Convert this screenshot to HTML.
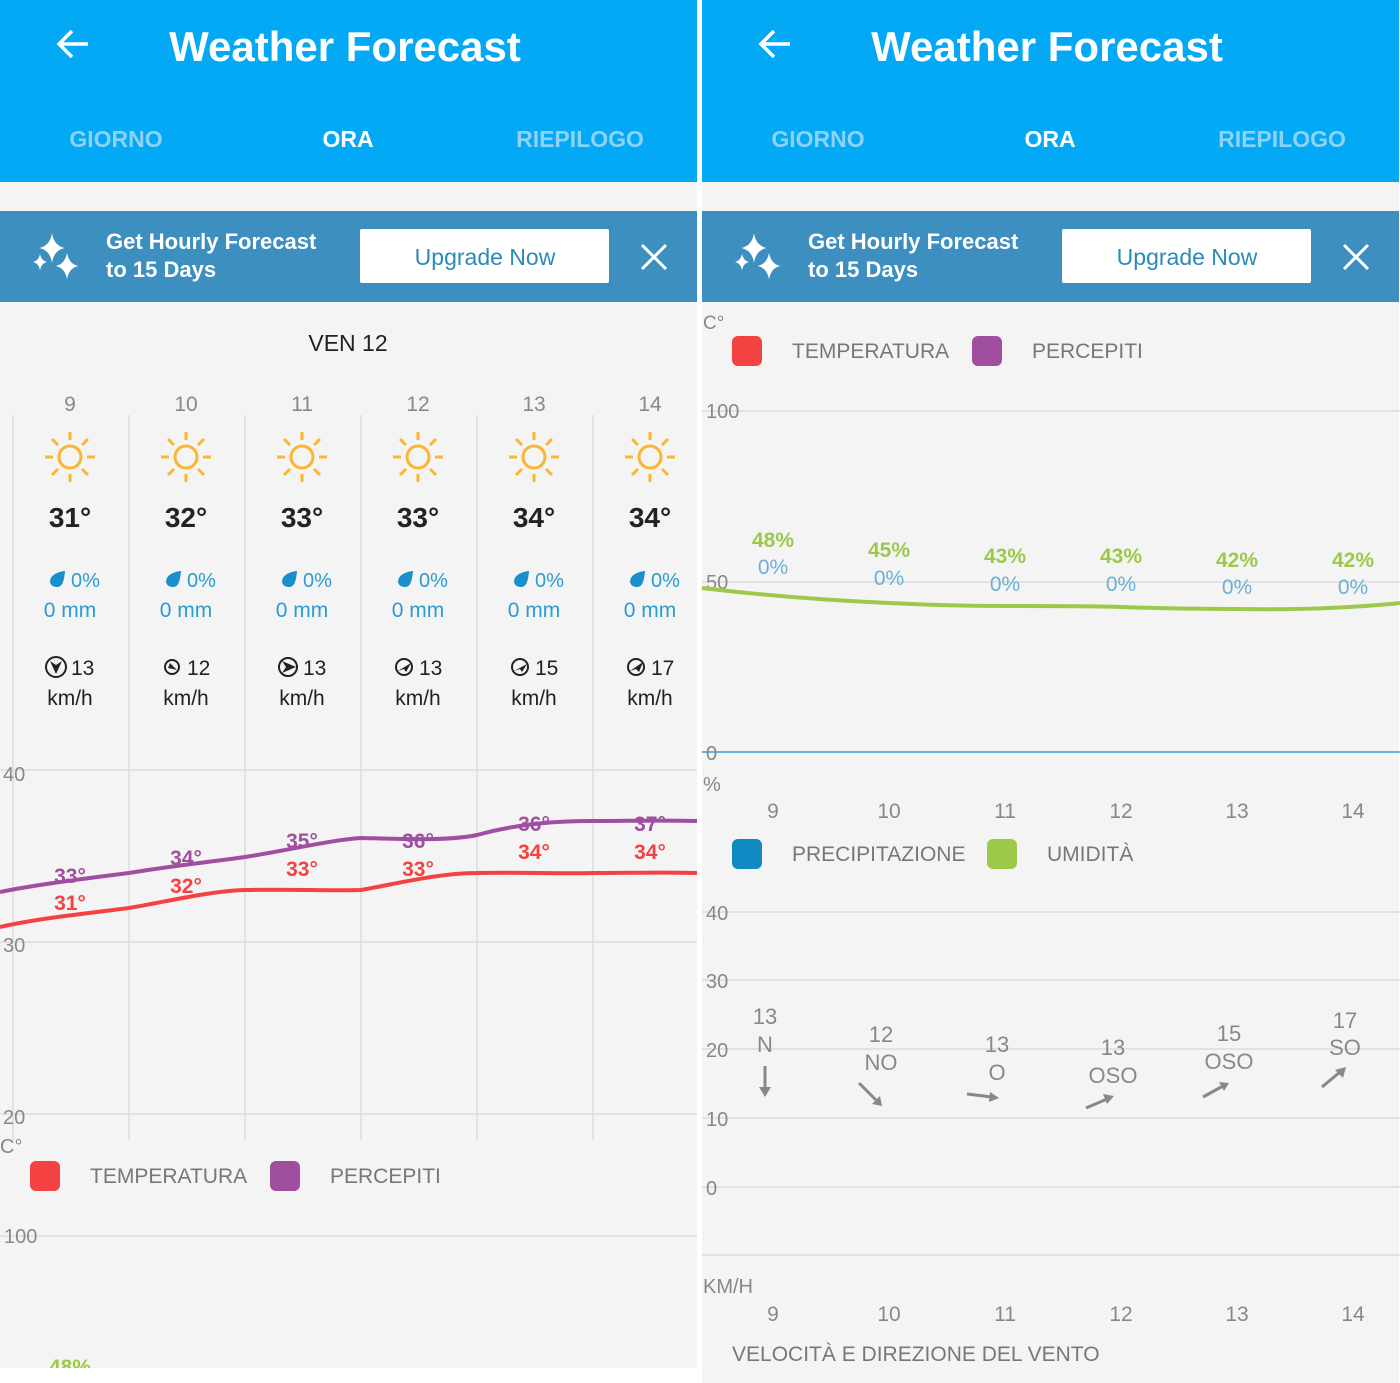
<!DOCTYPE html>
<html><head><meta charset="utf-8"><style>
html,body{margin:0;padding:0;background:#fff;}
svg{display:block;font-family:"Liberation Sans",sans-serif;}
</style></head><body>
<svg width="1400" height="1383" viewBox="0 0 1400 1383" xmlns="http://www.w3.org/2000/svg">
<defs>
<g id="sun" fill="none" stroke="#fbb52f" stroke-width="3" stroke-linecap="butt">
<circle r="11"/>
<line x1="0" y1="-17" x2="0" y2="-25"/><line x1="0" y1="17" x2="0" y2="25"/>
<line x1="-17" y1="0" x2="-25" y2="0"/><line x1="17" y1="0" x2="25" y2="0"/>
<line x1="12" y1="12" x2="18" y2="18"/><line x1="-12" y1="12" x2="-18" y2="18"/>
<line x1="12" y1="-12" x2="18" y2="-18"/><line x1="-12" y1="-12" x2="-18" y2="-18"/>
</g>
<path id="drop" d="M8,-8 C8,-8 -6,-7 -7,2 C-7,6 -4,8 0,8 C5,8 7,3 8,-8Z" fill="#1a8fc9"/>
<g id="spark" fill="#fff">
<path d="M0,-14 Q2,-2 12,0 Q2,2 0,14 Q-2,2 -12,0 Q-2,-2 0,-14Z"/>
</g>
<g id="header">
<rect x="0" y="0" width="697" height="182" fill="#03a9f4"/>
<rect x="0" y="182" width="697" height="29" fill="#f4f4f4"/>
<path d="M60,44 H88 M72,31 L59,44 L72,57" stroke="#fff" stroke-width="3.5" fill="none"/>
<text x="345" y="61" text-anchor="middle" font-size="42" font-weight="bold" fill="#fff">Weather Forecast</text>
<text x="116" y="147" text-anchor="middle" font-size="23" font-weight="bold" fill="#8ed3f7">GIORNO</text>
<text x="348" y="147" text-anchor="middle" font-size="23" font-weight="bold" fill="#fff">ORA</text>
<text x="580" y="147" text-anchor="middle" font-size="23" font-weight="bold" fill="#8ed3f7">RIEPILOGO</text>
<rect x="0" y="211" width="697" height="91" fill="#3d8fbf"/>
<use href="#spark" transform="translate(52,248) scale(1.05)"/>
<use href="#spark" transform="translate(40,262) scale(0.6)"/>
<use href="#spark" transform="translate(67,266) scale(0.95)"/>
<text x="106" y="249" font-size="22" font-weight="bold" fill="#fff">Get Hourly Forecast</text>
<text x="106" y="277" font-size="22" font-weight="bold" fill="#fff">to 15 Days</text>
<rect x="360" y="229" width="249" height="54" rx="2" fill="#fff"/>
<text x="485" y="265" text-anchor="middle" font-size="23" fill="#2a8ab8">Upgrade Now</text>
<path d="M642,245 L666,269 M666,245 L642,269" stroke="#fff" stroke-width="3"/>
<rect x="0" y="302" width="697" height="1081" fill="#f4f4f4"/>
</g>
</defs>

<use href="#header"/>
<use href="#header" transform="translate(702,0)"/>

<!-- LEFT PANEL -->
<text x="348" y="351" text-anchor="middle" font-size="23" fill="#222">VEN 12</text>
<g stroke="#dcdcdc" stroke-width="1.5">
<line x1="13" y1="415" x2="13" y2="1140"/><line x1="129" y1="415" x2="129" y2="1140"/>
<line x1="245" y1="415" x2="245" y2="1140"/><line x1="361" y1="415" x2="361" y2="1140"/>
<line x1="477" y1="415" x2="477" y2="1140"/><line x1="593" y1="415" x2="593" y2="1140"/>
<line x1="0" y1="770" x2="697" y2="770"/><line x1="0" y1="942" x2="697" y2="942"/>
<line x1="0" y1="1114" x2="697" y2="1114"/>
</g>
<g font-size="21" fill="#888" text-anchor="middle">
<text x="70" y="411">9</text><text x="186" y="411">10</text><text x="302" y="411">11</text>
<text x="418" y="411">12</text><text x="534" y="411">13</text><text x="650" y="411">14</text>
</g>
<use href="#sun" x="70" y="457"/><use href="#sun" x="186" y="457"/><use href="#sun" x="302" y="457"/>
<use href="#sun" x="418" y="457"/><use href="#sun" x="534" y="457"/><use href="#sun" x="650" y="457"/>
<g font-size="28" font-weight="bold" fill="#222" text-anchor="middle">
<text x="70" y="527">31°</text><text x="186" y="527">32°</text><text x="302" y="527">33°</text>
<text x="418" y="527">33°</text><text x="534" y="527">34°</text><text x="650" y="527">34°</text>
</g>
<g font-size="20" fill="#2b9bd0">
<use href="#drop" x="57" y="579"/><text x="71" y="587">0%</text>
<use href="#drop" x="173" y="579"/><text x="187" y="587">0%</text>
<use href="#drop" x="289" y="579"/><text x="303" y="587">0%</text>
<use href="#drop" x="405" y="579"/><text x="419" y="587">0%</text>
<use href="#drop" x="521" y="579"/><text x="535" y="587">0%</text>
<use href="#drop" x="637" y="579"/><text x="651" y="587">0%</text>
</g>
<g font-size="21" fill="#2b9bd0" text-anchor="middle">
<text x="70" y="617">0 mm</text><text x="186" y="617">0 mm</text><text x="302" y="617">0 mm</text>
<text x="418" y="617">0 mm</text><text x="534" y="617">0 mm</text><text x="650" y="617">0 mm</text>
</g>
<g fill="none" stroke="#222" stroke-width="2">
<circle cx="56" cy="667" r="10"/><circle cx="172" cy="667" r="7"/><circle cx="288" cy="667" r="9"/>
<circle cx="404" cy="667" r="8"/><circle cx="520" cy="667" r="8"/><circle cx="636" cy="667" r="8"/>
</g>
<g fill="#222">
<path d="M50,661 L56,674 L62,661 L56,665Z"/>
<path d="M167,663 L176,670 L172,667Z M168,668 L177,670 L170,663Z"/>
<path d="M282,661 L296,667 L282,673 L286,667Z"/>
<path d="M398,671 L411,663 L406,672 L404,669Z"/>
<path d="M514,671 L527,664 L522,672 L520,669Z"/>
<path d="M630,671 L643,662 L639,672 L636,669Z"/>
</g>
<g font-size="21" fill="#222">
<text x="71" y="675">13</text><text x="187" y="675">12</text><text x="303" y="675">13</text>
<text x="419" y="675">13</text><text x="535" y="675">15</text><text x="651" y="675">17</text>
</g>
<g font-size="21" fill="#222" text-anchor="middle">
<text x="70" y="705">km/h</text><text x="186" y="705">km/h</text><text x="302" y="705">km/h</text>
<text x="418" y="705">km/h</text><text x="534" y="705">km/h</text><text x="650" y="705">km/h</text>
</g>
<g font-size="20" fill="#888">
<text x="3" y="781">40</text><text x="3" y="952">30</text><text x="3" y="1124">20</text>
<text x="0" y="1153">C°</text>
</g>
<path d="M0,892 C40,884 90,878 129,873 C170,866 210,862 245,857 C290,850 330,840 361,838 C400,839 450,841 477,835 C520,823 560,821 593,821 C630,821 660,820 697,821" fill="none" stroke="#a04ea0" stroke-width="4"/>
<path d="M0,927 C40,918 90,913 129,908 C170,901 210,891 245,890 C290,889 330,891 361,890 C400,883 440,873 477,873 C520,872 560,874 593,873 C630,873 660,872 697,873" fill="none" stroke="#f44242" stroke-width="4"/>
<g font-size="21" font-weight="bold" text-anchor="middle" fill="#a04ea0">
<text x="70" y="883">33°</text><text x="186" y="865">34°</text><text x="302" y="848">35°</text>
<text x="418" y="848">36°</text><text x="534" y="831">36°</text><text x="650" y="831">37°</text>
</g>
<g font-size="21" font-weight="bold" text-anchor="middle" fill="#f44242">
<text x="70" y="910">31°</text><text x="186" y="893">32°</text><text x="302" y="876">33°</text>
<text x="418" y="876">33°</text><text x="534" y="859">34°</text><text x="650" y="859">34°</text>
</g>
<rect x="30" y="1161" width="30" height="30" rx="6" fill="#f44242"/>
<text x="90" y="1183" font-size="21" fill="#777">TEMPERATURA</text>
<rect x="270" y="1161" width="30" height="30" rx="6" fill="#a04ea0"/>
<text x="330" y="1183" font-size="21" fill="#777">PERCEPITI</text>
<line x1="0" y1="1236" x2="697" y2="1236" stroke="#dcdcdc" stroke-width="1.5"/>
<text x="4" y="1243" font-size="20" fill="#888">100</text>
<text x="70" y="1374" text-anchor="middle" font-size="21" font-weight="bold" fill="#9cc94a">48%</text>
<rect x="0" y="1368" width="697" height="15" fill="#fff"/>
<rect x="697" y="0" width="5" height="1383" fill="#fff"/>

<!-- RIGHT PANEL -->
<text x="703" y="329" font-size="19" fill="#888">C°</text>
<rect x="732" y="336" width="30" height="30" rx="6" fill="#f44242"/>
<text x="792" y="358" font-size="21" fill="#777">TEMPERATURA</text>
<rect x="972" y="336" width="30" height="30" rx="6" fill="#a04ea0"/>
<text x="1032" y="358" font-size="21" fill="#777">PERCEPITI</text>
<g stroke="#dcdcdc" stroke-width="1.5">
<line x1="702" y1="411" x2="1400" y2="411"/><line x1="702" y1="582" x2="1400" y2="582"/>
<line x1="702" y1="912" x2="1400" y2="912"/><line x1="702" y1="980" x2="1400" y2="980"/>
<line x1="702" y1="1049" x2="1400" y2="1049"/><line x1="702" y1="1118" x2="1400" y2="1118"/>
<line x1="702" y1="1187" x2="1400" y2="1187"/><line x1="702" y1="1255" x2="1400" y2="1255"/>
</g>
<line x1="702" y1="752" x2="1400" y2="752" stroke="#6ab0d8" stroke-width="2"/>
<g font-size="20" fill="#888">
<text x="706" y="418">100</text><text x="706" y="589">50</text><text x="706" y="760">0</text>
<text x="703" y="791">%</text>
<text x="706" y="920">40</text><text x="706" y="988">30</text><text x="706" y="1057">20</text>
<text x="706" y="1126">10</text><text x="706" y="1195">0</text>
<text x="703" y="1293">KM/H</text>
</g>
<path d="M702,588 C760,595 820,600 889,603 C950,606 1000,606 1005,606 C1060,606 1100,606 1121,607 C1180,609 1220,609 1237,609 C1300,610 1350,608 1400,603" fill="none" stroke="#9cc94a" stroke-width="4"/>
<g font-size="21" font-weight="bold" text-anchor="middle" fill="#9cc94a">
<text x="773" y="547">48%</text><text x="889" y="557">45%</text><text x="1005" y="563">43%</text>
<text x="1121" y="563">43%</text><text x="1237" y="567">42%</text><text x="1353" y="567">42%</text>
</g>
<g font-size="21" text-anchor="middle" fill="#6ab0d8">
<text x="773" y="574">0%</text><text x="889" y="585">0%</text><text x="1005" y="591">0%</text>
<text x="1121" y="591">0%</text><text x="1237" y="594">0%</text><text x="1353" y="594">0%</text>
</g>
<g font-size="21" fill="#888" text-anchor="middle">
<text x="773" y="818">9</text><text x="889" y="818">10</text><text x="1005" y="818">11</text>
<text x="1121" y="818">12</text><text x="1237" y="818">13</text><text x="1353" y="818">14</text>
<text x="773" y="1321">9</text><text x="889" y="1321">10</text><text x="1005" y="1321">11</text>
<text x="1121" y="1321">12</text><text x="1237" y="1321">13</text><text x="1353" y="1321">14</text>
</g>
<rect x="732" y="839" width="30" height="30" rx="6" fill="#0f8ac2"/>
<text x="792" y="861" font-size="21" fill="#777">PRECIPITAZIONE</text>
<rect x="987" y="839" width="30" height="30" rx="6" fill="#9cc94a"/>
<text x="1047" y="861" font-size="21" fill="#777">UMIDITÀ</text>
<g font-size="22" fill="#888" text-anchor="middle">
<text x="765" y="1024">13</text><text x="765" y="1052">N</text>
<text x="881" y="1042">12</text><text x="881" y="1070">NO</text>
<text x="997" y="1052">13</text><text x="997" y="1080">O</text>
<text x="1113" y="1055">13</text><text x="1113" y="1083">OSO</text>
<text x="1229" y="1041">15</text><text x="1229" y="1069">OSO</text>
<text x="1345" y="1028">17</text><text x="1345" y="1055">SO</text>
</g>
<g stroke="#888" stroke-width="3" fill="none">
<line x1="765" y1="1066" x2="765" y2="1090"/>
<line x1="859" y1="1083" x2="876" y2="1100"/>
<line x1="967" y1="1094" x2="992" y2="1097"/>
<line x1="1086" y1="1108" x2="1107" y2="1099"/>
<line x1="1203" y1="1097" x2="1223" y2="1086"/>
<line x1="1322" y1="1087" x2="1340" y2="1072"/>
</g>
<g fill="#888">
<path d="M759,1087 L771,1087 L765,1097Z"/>
<path d="M872,1104 L882,1106 L880,1096Z"/>
<path d="M990,1092 L999,1098 L989,1102Z"/>
<path d="M1103,1094 L1114,1096 L1107,1104Z"/>
<path d="M1219,1082 L1229,1083 L1224,1091Z"/>
<path d="M1335,1070 L1346,1067 L1343,1078Z"/>
</g>
<text x="732" y="1361" font-size="21" fill="#777">VELOCITÀ E DIREZIONE DEL VENTO</text>
</svg>
</body></html>
